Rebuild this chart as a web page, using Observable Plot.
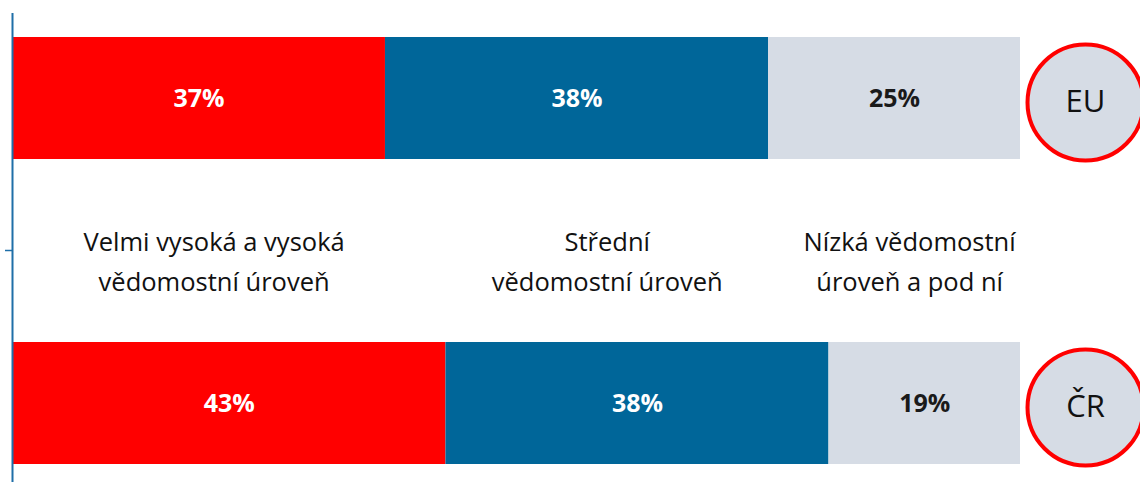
<!DOCTYPE html>
<html>
<head>
<meta charset="utf-8">
<script src="https://cdn.jsdelivr.net/npm/d3@7"></script>
<script src="https://cdn.jsdelivr.net/npm/@observablehq/plot@0.6"></script>
<style>
  html, body { margin: 0; padding: 0; background: #ffffff; }
  #chart svg { display: block; }
</style>
</head>
<body>
<div id="chart"></div>
<script>
const regions = ["EU", "ČR"];
const levels = [
  "Velmi vysoká a vysoká\nvědomostní úroveň",
  "Střední\nvědomostní úroveň",
  "Nízká vědomostní\núroveň a pod ní"
];
const euShares = [37, 38, 25];
const crShares = [43, 38, 19];

const colors = ["#ff0000", "#006699", "#d6dce5"];
const textColors = ["#ffffff", "#ffffff", "#1a1a1a"];

const shares = { "EU": euShares, "ČR": crShares };
const rows = [];
for (const r of regions) {
  shares[r].forEach((v, i) => rows.push({ region: r, level: levels[i], idx: i, value: v }));
}

// label positions: average of segment midpoints across both regions
const levelRows = levels.map((lab, i) => {
  const mids = regions.map(r => {
    const s = shares[r];
    const start = d3.sum(s.slice(0, i));
    return start + s[i] / 2;
  });
  return { label: lab, mid: d3.mean(mids) };
});

const font = "'Open Sans', 'Noto Sans', sans-serif";

const chart = Plot.plot({
  width: 1140,
  height: 482,
  marginLeft: 12,
  marginRight: 120,
  marginTop: 36,
  marginBottom: 18,
  style: { fontFamily: font, background: "#ffffff" },
  x: { domain: [0, 100], axis: null },
  y: { domain: regions, axis: null, paddingInner: 0.6, paddingOuter: 0 },
  color: { domain: levels, range: colors },
  marks: [
    Plot.barX(rows, Plot.stackX({ x: "value", y: "region", fill: "level" })),
    Plot.text(rows, Plot.stackX({
      x: "value", y: "region",
      text: d => d.value + "%",
      fill: d => textColors[d.idx],
      fontSize: 25, fontWeight: "bold"
    })),
    Plot.text(levelRows, {
      x: "mid", text: "label",
      fontSize: 25.5, lineHeight: 1.55, dy: 8, fill: "#111111"
    }),
    Plot.ruleX([0], { stroke: "#1f6fa8", strokeWidth: 2, insetTop: -23, insetBottom: -18 }),
    Plot.ruleY([{}], { y: null, x1: 0, x2: 0, insetLeft: -7, stroke: "#1f6fa8", strokeWidth: 1.5 }),
    Plot.dot(regions, {
      y: d => d, frameAnchor: "right", dx: 65, dy: 4, r: 58,
      fill: "#d6dce5", stroke: "#ff0000", strokeWidth: 4
    }),
    Plot.text(regions, {
      y: d => d, frameAnchor: "right", dx: 65, dy: 4, text: d => d,
      fontSize: 31, fill: "#111111", textAnchor: "middle"
    })
  ]
});
document.getElementById("chart").appendChild(chart);
</script>
</body>
</html>
